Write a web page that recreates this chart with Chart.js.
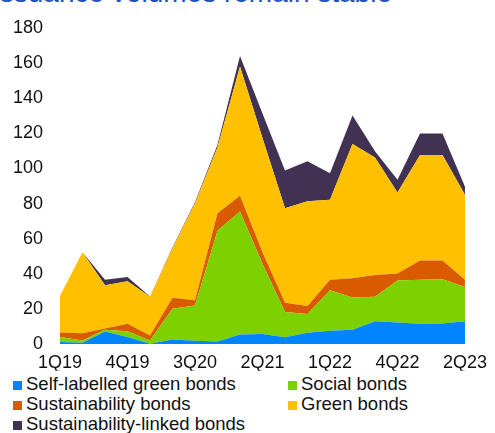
<!DOCTYPE html>
<html>
<head>
<meta charset="utf-8">
<script src="https://cdn.jsdelivr.net/npm/chart.js@4"></script>
<style>
  html, body { margin: 0; padding: 0; background: #fff; }
  body { width: 495px; height: 433px; position: relative; overflow: hidden; font-family: "Liberation Sans", Arial, sans-serif; }
  #title { position: absolute; right: 103px; top: -21px; white-space: nowrap; font-size: 28px; line-height: 28px; color: #1f4fc2; }
  #wrap { position: absolute; left: 0; top: 0; width: 495px; height: 372px; }
  #legend { position: absolute; left: 13px; top: 374px; display: grid; grid-template-columns: 275px auto; font-size: 18.5px; line-height: 20px; color: #111; }
  .item { display: flex; align-items: flex-start; white-space: nowrap; }
  .sw { width: 9px; height: 9px; margin-top: 7px; margin-right: 4px; flex: none; }
</style>
</head>
<body>
<div id="title">Issuance volumes remain stable</div>
<div id="wrap"><canvas id="c" width="495" height="372"></canvas></div>
<div id="legend"></div>
<script>
// Quarters (one per data point)
const categories = ['1Q19','2Q19','3Q19','4Q19','1Q20','2Q20','3Q20','4Q20','1Q21','2Q21','3Q21','4Q21','1Q22','2Q22','3Q22','4Q22','1Q23','2Q23','3Q23'];
// Axis labels as printed (every third point)
const tickLabels = ['1Q19','4Q19','3Q20','2Q21','1Q22','4Q22','2Q23'];
const yTicks = [0, 20, 40, 60, 80, 100, 120, 140, 160, 180];

const seriesNames = ['Self-labelled green bonds', 'Social bonds', 'Sustainability bonds', 'Green bonds', 'Sustainability-linked bonds'];
const selfLabelledGreen = [1.3, 0.8, 7.2, 4.1, 0.3, 2.7, 2.0, 1.5, 5.5, 5.8, 4.0, 6.5, 7.6, 8.2, 13.1, 12.3, 11.7, 11.8, 13.1];
const social            = [2.8, 1.3, 1.0, 3.3, 1.8, 17.5, 20.0, 63.0, 70.0, 40.0, 14.3, 10.7, 23.1, 18.4, 13.9, 23.9, 25.0, 25.2, 19.4];
const sustainability    = [2.6, 4.2, 0.8, 4.2, 2.8, 6.2, 3.0, 10.0, 9.0, 6.5, 5.3, 4.6, 6.0, 10.9, 12.3, 4.0, 10.9, 10.6, 4.1];
const green             = [20.8, 46.0, 24.6, 24.2, 22.1, 28.1, 55.0, 37.5, 73.5, 65.0, 53.7, 59.5, 45.5, 76.4, 66.9, 46.1, 60.0, 60.0, 48.4];
const sustainLinked     = [0, 0, 3.0, 2.5, 0.2, 0.5, 0.8, 1.5, 6.0, 14.0, 21.5, 22.8, 15.1, 16.2, 3.6, 7.3, 12.2, 12.2, 4.6];

const colors = ['#0085ff', '#7dd100', '#da5a00', '#ffc000', '#413153'];
const values = [selfLabelledGreen, social, sustainability, green, sustainLinked];

const datasets = values.map((v, i) => ({
  label: seriesNames[i],
  data: v,
  backgroundColor: colors[i],
  borderColor: colors[i],
  borderWidth: 0,
  pointRadius: 0,
  tension: 0,
  fill: i === 0 ? 'origin' : '-1'
}));

const FONT = { family: '"Liberation Sans", Arial, sans-serif', size: 18 };

new Chart(document.getElementById('c'), {
  type: 'line',
  data: { labels: categories, datasets },
  options: {
    responsive: false,
    animation: false,
    layout: { padding: { top: 19.5, right: 24.5, left: 0, bottom: 0 } },
    plugins: { legend: { display: false }, tooltip: { enabled: false } },
    scales: {
      x: {
        offset: false,
        grid: { display: false, drawTicks: false },
        border: { display: false },
        ticks: {
          autoSkip: false, maxRotation: 0, minRotation: 0, padding: 8,
          color: '#111', font: FONT,
          callback: (v, i) => (i % 3 === 0 ? tickLabels[i / 3] : '')
        },
        afterFit: s => { s.height = 26.5; }
      },
      y: {
        stacked: true,
        min: 0, max: 180,
        grid: { display: false, drawTicks: false },
        border: { display: false },
        afterBuildTicks: s => { s.ticks = yTicks.map(v => ({ value: v })); },
        ticks: { padding: 17, color: '#111', font: FONT },
        afterFit: s => { s.width = 60; }
      }
    }
  }
});

// Legend (two columns, as in the original)
const legend = document.getElementById('legend');
seriesNames.forEach((name, i) => {
  const it = document.createElement('div');
  it.className = 'item';
  const sw = document.createElement('span');
  sw.className = 'sw';
  sw.style.background = colors[i];
  const tx = document.createElement('span');
  tx.textContent = name;
  it.appendChild(sw); it.appendChild(tx);
  legend.appendChild(it);
});
</script>
</body>
</html>
